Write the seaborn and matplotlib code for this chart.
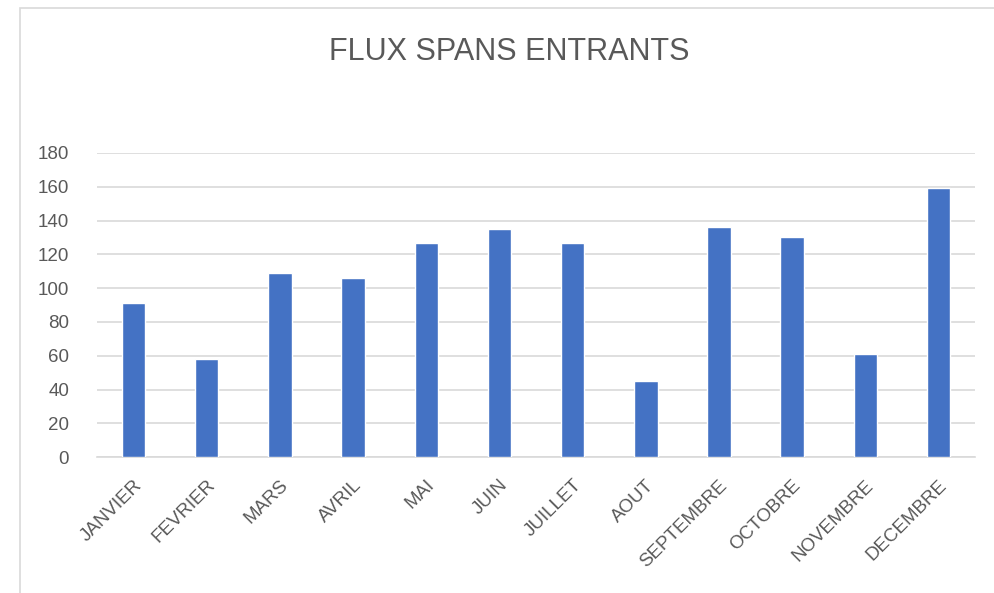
import pandas as pd
import matplotlib.pyplot as plt
import matplotlib.patches as mpatches
import seaborn as sns

# Data
months = ['JANVIER', 'FEVRIER', 'MARS', 'AVRIL', 'MAI', 'JUIN',
          'JUILLET', 'AOUT', 'SEPTEMBRE', 'OCTOBRE', 'NOVEMBRE', 'DECEMBRE']
spans = [91, 58, 109, 106, 127, 135, 127, 45, 136, 130, 61, 159]
y_ticks = [0, 20, 40, 60, 80, 100, 120, 140, 160, 180]

df = pd.DataFrame({'month': months, 'spans': spans})

sns.set_style("white")
plt.rcParams['font.family'] = ['Liberation Sans', 'DejaVu Sans']

text_grey = '#595959'
grid_grey = '#d9d9d9'

fig = plt.figure(figsize=(9.95, 5.93), dpi=100)
ax = fig.add_axes([0.0975, 0.229, 0.8825, 0.513])

sns.barplot(data=df, x='month', y='spans', color='#4472C4', width=0.32,
            saturation=1, ax=ax, zorder=3)

ax.set_ylim(0, 180)
ax.set_xlim(-0.5, len(months) - 0.5)
ax.set_yticks(y_ticks)
ax.yaxis.grid(True, color=grid_grey, linewidth=1.2, zorder=0)
ax.set_xlabel('')
ax.set_ylabel('')

for side in ['top', 'right', 'left']:
    ax.spines[side].set_visible(False)
ax.spines['bottom'].set_color(grid_grey)
ax.spines['bottom'].set_linewidth(1.2)

ax.tick_params(axis='y', length=0, pad=20, labelsize=13.5, labelcolor=text_grey)
ax.tick_params(axis='x', length=0, pad=14, labelsize=13.5, labelcolor=text_grey)
plt.setp(ax.get_xticklabels(), rotation=45, ha='right', rotation_mode='anchor')

fig.text(0.512, 0.913, 'FLUX SPANS ENTRANTS', ha='center', va='center',
         fontsize=22, color=text_grey)

# light chart border like the spreadsheet frame
fig.patches.append(mpatches.Rectangle((20 / 995, -0.02), 1.0, 1 - 8 / 593 + 0.02,
                                      transform=fig.transFigure, fill=False,
                                      edgecolor=grid_grey, linewidth=1.2))

plt.savefig('out.png', dpi=100)
plt.close()
